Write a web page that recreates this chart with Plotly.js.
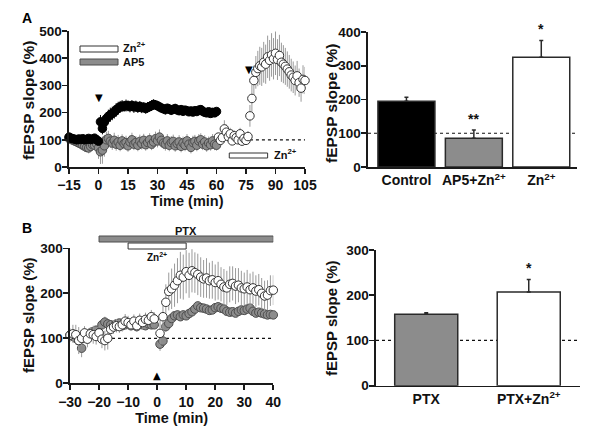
<!DOCTYPE html>
<html><head><meta charset="utf-8">
<script src="https://cdn.plot.ly/plotly-3.0.1.min.js"></script>
<style>html,body{margin:0;padding:0;background:#fff}#chart{width:600px;height:429px}</style>
</head><body><div id="chart"></div>
<script>
// ---------- Panel A (time course) ----------
const tA_ctrl = [-15,-14,-13,-12,-11,-10,-9,-8,-7,-6,-5,-4,-3,-2,-1,0,1,2,3,4,5,6,7,8,9,10,11,12,13,14,15,16,17,18,19,20,21,22,23,24,25,26,27,28,29,30,31,32,33,34,35,36,37,38,39,40,41,42,43,44,45,46,47,48,49,50,51,52,53,54,55,56,57,58,59,60];
const yA_ctrl = [110,106,104,102,100,103,101,104,100,102,105,101,103,106,100,95,166,142,165,178,186,192,197,202,210,216,221,224,223,226,225,222,226,221,224,219,223,218,220,215,219,222,226,230,228,225,221,217,214,211,216,213,209,212,215,210,207,211,205,209,207,203,206,202,207,204,209,211,205,201,199,203,197,201,199,204];
const eA_ctrl = [10,10,9,10,8,10,9,10,9,10,8,10,9,10,10,12,25,22,25,24,25,26,25,24,25,24,22,22,20,22,20,21,20,22,20,20,19,20,18,19,20,18,20,19,18,18,17,18,17,18,16,17,18,16,17,16,16,15,16,15,16,15,15,14,15,14,15,14,15,14,14,13,14,13,13,13];
const yA_ap5 = [105,102,98,95,92,88,85,80,76,72,70,76,82,80,86,70,56,62,78,100,105,95,88,98,84,92,80,96,86,90,78,92,100,84,90,80,94,86,98,82,90,100,84,92,104,96,110,98,88,84,96,80,90,94,78,86,92,76,88,80,96,84,72,90,94,80,96,100,84,92,78,88,82,96,84,80];
const eA_ap5 = [15,14,15,16,15,18,16,18,20,18,20,18,20,18,20,40,45,50,40,30,28,25,25,28,24,26,22,24,22,25,22,24,26,22,24,22,25,22,24,22,25,24,22,25,26,24,28,25,22,24,25,22,24,25,22,24,25,22,24,22,25,24,22,25,24,22,25,24,22,25,22,24,22,25,22,20];
const tA_zn = [61,62,63,64,65,66,67,68,69,70,71,72,73,74,75,76,77,78,79,80,81,82,83,84,85,86,87,88,89,90,91,92,93,94,95,96,97,98,99,100,101,102,103,104,105];
const yA_zn = [110,98,108,140,128,112,122,96,115,108,100,122,95,105,98,112,188,252,318,348,362,372,368,385,378,405,392,412,398,418,395,410,385,378,370,360,350,338,330,318,335,310,290,322,318];
const eA_zn = [15,15,20,32,28,20,22,15,20,20,15,22,15,20,15,20,40,50,55,60,65,70,70,75,72,78,75,80,76,80,75,76,72,70,68,65,62,60,58,55,55,52,50,52,50];
const znBarA = [66.5, 86];      // Zn2+ application (min)
const arrowsA = [0, 76.5];      // arrowheads (min)

// ---------- Panel A (summary bars) ----------
const catsA = ['Control', 'AP5+Zn<sup>2+</sup>', 'Zn<sup>2+</sup>'];
const barA = [195, 85, 325];
const barA_err = [12, 25, 50];
const barA_sig = ['', '**', '*'];

// ---------- Panel B (time course) ----------
const tB = [-30,-29,-28,-27,-26,-25,-24,-23,-22,-21,-20,-19,-18,-17,-16,-15,-14,-13,-12,-11,-10,-9,-8,-7,-6,-5,-4,-3,-2,-1,1,2,3,4,5,6,7,8,9,10,11,12,13,14,15,16,17,18,19,20,21,22,23,24,25,26,27,28,29,30,31,32,33,34,35,36,37,38,39,40];
const yB_ptx = [107,104,100,95,78,100,108,112,115,118,112,130,136,132,130,128,132,134,128,130,132,128,130,126,132,130,128,132,130,130,87,94,126,133,144,150,152,148,152,150,155,159,165,172,168,167,165,162,163,168,170,167,165,160,158,159,156,160,163,162,165,167,160,156,158,156,154,152,153,152];
const eB_ptx = [10,10,9,10,20,10,9,10,9,10,10,12,12,11,10,9,10,9,10,9,10,9,10,9,10,9,10,9,10,9,15,14,12,10,10,9,10,9,10,9,10,9,10,10,9,10,9,8,9,8,9,8,9,8,9,8,9,8,9,8,9,8,8,8,8,8,7,8,7,7];
const yB_zn = [107,110,108,95,100,112,98,110,108,104,112,98,95,100,120,125,128,126,130,138,135,130,138,128,140,135,142,140,148,143,111,148,180,204,210,218,228,240,236,248,240,250,246,242,236,232,234,228,230,224,228,220,214,212,220,222,216,218,212,210,214,208,212,205,208,200,194,196,206,207];
const eB_zn = [15,20,22,30,18,15,18,15,20,18,15,20,22,25,18,15,15,14,15,16,15,14,15,14,15,14,15,14,15,15,30,35,40,42,45,48,50,52,50,48,50,48,45,46,44,42,44,40,42,40,42,38,40,38,40,38,40,38,38,36,38,36,36,35,35,34,34,33,34,33];
const ptxBarB = [-20, 40];
const znBarB = [-10, 10];
const arrowB = 0;

// ---------- Panel B (summary bars) ----------
const catsB = ['PTX', 'PTX+Zn<sup>2+</sup>'];
const barB = [158, 207];
const barB_err = [3, 28];
const barB_sig = ['', '*'];

// ---------- styling ----------
const FF = '"Liberation Sans", Arial, Helvetica, sans-serif';
const AX = '#1a1a1a';
const GREY = '#8c8c8c';
const GREY_LINE = '#4d4d4d';
const ERRC = '#9a9a9a';
const px = v => v / 600;
const py = v => 1 - v / 429;

function series(xa, ya, x, y, e, fill, lineC, errC) {
  return {type: 'scatter', mode: 'markers', xaxis: xa, yaxis: ya, x: x, y: y,
    cliponaxis: false, showlegend: false,
    marker: {symbol: 'circle', size: 8.5, color: fill, line: {color: lineC, width: 1}},
    error_y: {type: 'data', array: e, visible: true, color: errC, thickness: 1, width: 0}};
}
function bars(xa, ya, vals, err, colors) {
  return {type: 'bar', xaxis: xa, yaxis: ya, x: vals.map((_, i) => i), y: vals,
    showlegend: false, cliponaxis: false,
    marker: {color: colors, line: {color: '#2a2a2a', width: 1.5}},
    error_y: {type: 'data', symmetric: false, array: err, arrayminus: err.map(() => 0),
      color: '#2a2a2a', thickness: 1.5, width: 2}};
}

const traces = [
  series('x', 'y', tA_ctrl, yA_ap5, eA_ap5, GREY, GREY_LINE, ERRC),
  series('x', 'y', tA_ctrl, yA_ctrl, eA_ctrl, '#000', '#000', '#000'),
  series('x', 'y', tA_zn, yA_zn, eA_zn, '#fff', '#333', ERRC),
  bars('x2', 'y2', barA, barA_err, ['#000', GREY, '#fff']),
  series('x3', 'y3', tB, yB_ptx, eB_ptx, GREY, GREY_LINE, ERRC),
  series('x3', 'y3', tB, yB_zn, eB_zn, '#fff', '#333', ERRC),
  bars('x4', 'y4', barB, barB_err, [GREY, '#fff'])
];
traces[3].width = 0.845;
traces[6].width = 0.615;

const tickF = {family: FF, size: 14, color: '#111', weight: 'bold'};
const titF = {family: FF, size: 14.5, color: '#111', weight: 'bold'};
function axBase(extra) {
  return Object.assign({showline: true, linecolor: AX, linewidth: 1.6, ticks: 'outside',
    ticklen: 5, tickwidth: 1.6, tickcolor: AX, showgrid: false, zeroline: false,
    tickfont: tickF, automargin: false, fixedrange: true}, extra);
}
const yExtra = {ticklabelstandoff: -2, tickfont: {family: FF, size: 13.5, color: '#111', weight: 'bold'}};

const layout = {
  width: 600, height: 429, margin: {l: 0, r: 0, t: 0, b: 0},
  paper_bgcolor: '#fff', plot_bgcolor: 'rgba(0,0,0,0)', bargap: 0.15,
  font: {family: FF, color: '#111'},
  xaxis: axBase({domain: [px(69), px(305)], range: [-15, 105], anchor: 'y',
    tickvals: [-15, 0, 15, 30, 45, 60, 75, 90, 105],
    title: {text: 'Time (min)', font: titF, standoff: 0}}),
  yaxis: axBase(Object.assign({domain: [py(167), py(31)], range: [0, 500], anchor: 'x', dtick: 100}, yExtra)),
  xaxis2: axBase({domain: [px(368), px(577)], range: [-0.57, 2.53], anchor: 'y2',
    tickvals: [0, 1, 2], ticktext: catsA, ticks: ''}),
  yaxis2: axBase(Object.assign({domain: [py(167), py(32)], range: [0, 400], anchor: 'x2', dtick: 100}, yExtra)),
  xaxis3: axBase({domain: [px(70), px(273.3)], range: [-30, 40], anchor: 'y3', dtick: 10,
    title: {text: 'Time (min)', font: titF, standoff: 0}}),
  yaxis3: axBase(Object.assign({domain: [py(383.3), py(248.3)], range: [0, 300], anchor: 'x3', dtick: 100}, yExtra)),
  xaxis4: axBase({domain: [px(376), px(580)], range: [-0.49, 1.5], anchor: 'y4',
    tickvals: [0, 1], ticktext: catsB, ticks: ''}),
  yaxis4: axBase(Object.assign({domain: [py(385.7), py(250)], range: [0, 300], anchor: 'x4', dtick: 100}, yExtra)),
  shapes: [], annotations: []
};

const dash = {color: '#111', width: 1.2, dash: 'dot'};
// baselines
layout.shapes.push({type: 'line', xref: 'x', yref: 'y', x0: 77, x1: 105, y0: 100, y1: 100, line: dash, layer: 'below'});
layout.shapes.push({type: 'line', xref: 'x2', yref: 'y2', x0: -0.57, x1: 2.53, y0: 100, y1: 100, line: dash, layer: 'below'});
layout.shapes.push({type: 'line', xref: 'x3', yref: 'y3', x0: -30, x1: 40, y0: 100, y1: 100, line: dash, layer: 'below'});
layout.shapes.push({type: 'line', xref: 'x4', yref: 'y4', x0: -0.49, x1: 1.5, y0: 100, y1: 100, line: dash, layer: 'below'});

// drug application bars
layout.shapes.push({type: 'rect', xref: 'x', yref: 'paper', x0: znBarA[0], x1: znBarA[1], y0: py(158), y1: py(153),
  fillcolor: '#fff', line: {color: '#333', width: 1}});
layout.shapes.push({type: 'rect', xref: 'x3', yref: 'paper', x0: ptxBarB[0], x1: ptxBarB[1], y0: py(242), y1: py(236),
  fillcolor: GREY, line: {color: GREY_LINE, width: 1}});
layout.shapes.push({type: 'rect', xref: 'x3', yref: 'paper', x0: znBarB[0], x1: znBarB[1], y0: py(249), y1: py(243),
  fillcolor: '#fff', line: {color: '#333', width: 1}});
// legend swatches in A
layout.shapes.push({type: 'rect', xref: 'paper', yref: 'paper', x0: px(80), x1: px(118), y0: py(52), y1: py(46),
  fillcolor: '#fff', line: {color: '#333', width: 1}});
layout.shapes.push({type: 'rect', xref: 'paper', yref: 'paper', x0: px(80), x1: px(118), y0: py(65), y1: py(59),
  fillcolor: GREY, line: {color: GREY_LINE, width: 1}});

function ann(o) { layout.annotations.push(Object.assign({showarrow: false, xanchor: 'center', yanchor: 'middle'}, o)); }
const smallF = {family: FF, size: 11, color: '#111', weight: 'bold'};
// y-axis titles
const yTitle = 'fEPSP slope (%)';
ann({xref: 'paper', yref: 'paper', x: px(28), y: py(101), textangle: -90, text: yTitle, font: {family: FF, size: 15.5, color: '#111', weight: 'bold'}});
ann({xref: 'paper', yref: 'paper', x: px(331), y: py(104), textangle: -90, text: yTitle, font: {family: FF, size: 15.5, color: '#111', weight: 'bold'}});
ann({xref: 'paper', yref: 'paper', x: px(28), y: py(315), textangle: -90, text: yTitle, font: {family: FF, size: 15, color: '#111', weight: 'bold'}});
ann({xref: 'paper', yref: 'paper', x: px(331), y: py(318), textangle: -90, text: yTitle, font: {family: FF, size: 15, color: '#111', weight: 'bold'}});

ann({xref: 'paper', yref: 'paper', x: px(121), y: py(47), xanchor: 'left', text: 'Zn<sup>2+</sup>', font: smallF});
ann({xref: 'paper', yref: 'paper', x: px(121), y: py(62), xanchor: 'left', text: 'AP5', font: smallF});
ann({xref: 'x', yref: 'paper', x: znBarA[1], y: py(154), xanchor: 'left', xshift: 4, text: 'Zn<sup>2+</sup>', font: smallF});
ann({xref: 'x3', yref: 'paper', x: (ptxBarB[0] + ptxBarB[1]) / 2, y: py(231), text: 'PTX', font: smallF});
ann({xref: 'x3', yref: 'paper', x: (znBarB[0] + znBarB[1]) / 2, y: py(257), text: 'Zn<sup>2+</sup>', font: {family: FF, size: 10, color: '#111', weight: 'bold'}});
// arrowheads
ann({xref: 'x', yref: 'paper', x: arrowsA[0], y: py(97), text: '▼', font: {family: 'DejaVu Sans', size: 10, color: '#000'}});
ann({xref: 'x', yref: 'paper', x: arrowsA[1], y: py(69), text: '▼', font: {family: 'DejaVu Sans', size: 10, color: '#000'}});
ann({xref: 'x3', yref: 'paper', x: arrowB, y: py(375), text: '▲', font: {family: 'DejaVu Sans', size: 10, color: '#000'}});
// significance
barA_sig.forEach((s, i) => { if (s) ann({xref: 'x2', yref: 'y2', x: i, y: barA[i] + barA_err[i], yanchor: 'bottom', yshift: 1, text: s, font: {family: FF, size: 14, color: '#111', weight: 'bold'}}); });
barB_sig.forEach((s, i) => { if (s) ann({xref: 'x4', yref: 'y4', x: i, y: barB[i] + barB_err[i], yanchor: 'bottom', yshift: 1, text: s, font: {family: FF, size: 14, color: '#111', weight: 'bold'}}); });
// panel letters
ann({xref: 'paper', yref: 'paper', x: px(27), y: py(18), text: 'A', font: {family: FF, size: 14, color: '#000', weight: 'bold'}});
ann({xref: 'paper', yref: 'paper', x: px(27), y: py(228), text: 'B', font: {family: FF, size: 14, color: '#000', weight: 'bold'}});

Plotly.newPlot('chart', traces, layout, {displayModeBar: false, staticPlot: true});
</script></body></html>
